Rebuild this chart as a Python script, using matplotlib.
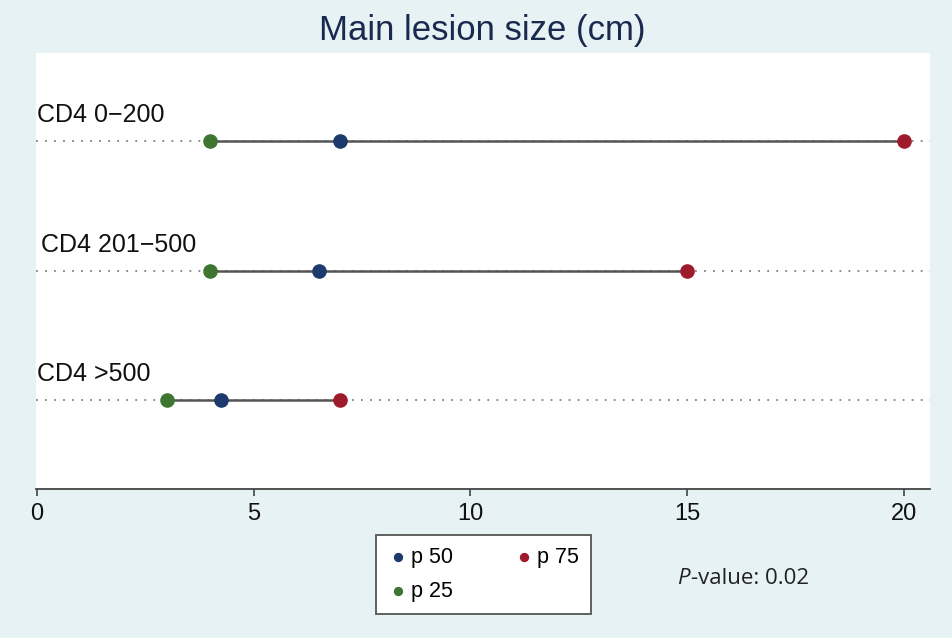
import numpy as np
import matplotlib.pyplot as plt

plt.rcParams['font.family'] = ['Liberation Sans', 'DejaVu Sans']

# data
groups = ['CD4 0\u2212200', 'CD4 201\u2212500', 'CD4 >500']
p25 = [4.0, 4.0, 3.0]
p50 = [7.0, 6.5, 4.25]
p75 = [20.0, 15.0, 7.0]
xticks = [0, 5, 10, 15, 20]

c_p50 = '#1d3a6c'
c_p75 = '#9e1b2b'
c_p25 = '#3e7530'
bg = '#e6f2f4'

fig = plt.figure(figsize=(9.52, 6.38), dpi=100, facecolor=bg)
ax = fig.add_axes([0.0378, 0.2335, 0.939, 0.6834])
ax.set_facecolor('white')

y = np.arange(1, len(groups) + 1)
label_dx = [0.0, 0.1, 0.0]
for yi, lo, hi, lab, dx in zip(y, p25, p75, groups, label_dx):
    ax.axhline(yi, color='#808080', linestyle=(0, (1, 4)), linewidth=1.3, zorder=1)
    ax.plot([lo, hi], [yi, yi], color='#555555', linewidth=1.8, zorder=2)
    ax.text(dx, yi - 0.2, lab, fontsize=18, color='#111111', ha='left', va='center')

ax.scatter(p50, y, s=90, color=c_p50, zorder=3, label='p 50')
ax.scatter(p25, y, s=90, color=c_p25, zorder=3, label='p 25')
ax.scatter(p75, y, s=90, color=c_p75, zorder=3, label='p 75')

ax.set_xlim(-0.02, 20.6)
ax.set_ylim(3.687, 0.32)
ax.set_xticks(xticks)
ax.set_yticks([])
ax.tick_params(axis='x', labelsize=17, length=5, width=1.2, color='#444444', pad=5,
               labelcolor='#111111')
for s in ['top', 'right', 'left']:
    ax.spines[s].set_visible(False)
ax.spines['bottom'].set_color('#444444')
ax.spines['bottom'].set_linewidth(1.3)

fig.text(0.507, 0.952, 'Main lesion size (cm)', fontsize=25, color='#1a2a4f',
         ha='center', va='center')

leg = fig.legend(loc='center', bbox_to_anchor=(0.5075, 0.0995), ncol=2, fontsize=15.5,
                 markerscale=0.6, frameon=True, fancybox=False, edgecolor='#555555',
                 facecolor='white', framealpha=1, handletextpad=0.1, handlelength=1.0,
                 columnspacing=2.8, borderpad=0.55, labelspacing=0.6)
leg.get_frame().set_linewidth(1.3)

fig.text(0.711, 0.094, 'P', fontsize=16, color='#222222', ha='left', va='center',
         family='Open Sans', style='italic')
fig.text(0.726, 0.094, '-value: 0.02', fontsize=16, color='#222222', ha='left',
         va='center', family='Open Sans')

plt.savefig('out.png', dpi=100, facecolor=bg)
